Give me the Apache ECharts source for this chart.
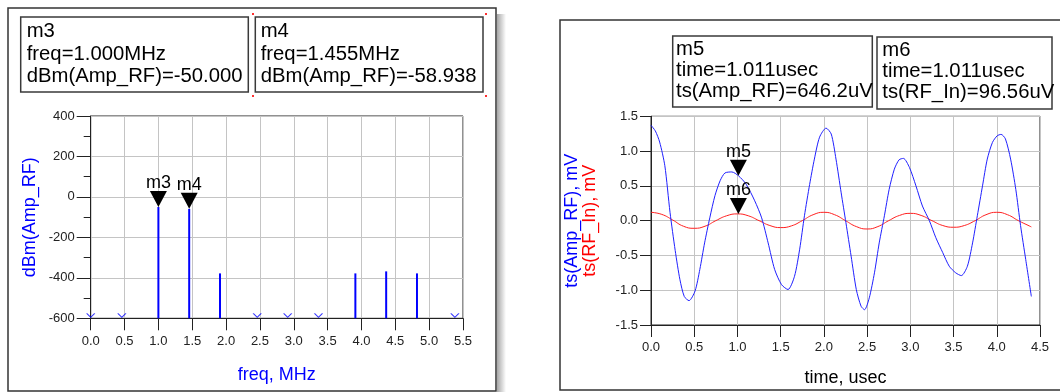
<!DOCTYPE html>
<html>
<head>
<meta charset="utf-8">
<script src="https://cdn.jsdelivr.net/npm/echarts@6/dist/echarts.min.js"></script>
<style>html,body{margin:0;padding:0;background:#fff;}#c{width:1060px;height:392px;}</style>
</head>
<body>
<div id="c"></div>
<script>
// ---------- Left panel: spectrum ----------
const freqStems = [1.0, 1.455, 1.91, 3.91, 4.365, 4.82];
const dbmStems  = [-50.0, -58.938, -378, -378, -368, -378];
const freqFloor = [0.0, 0.46, 2.46, 2.91, 3.365, 5.38];
const dbmFloor  = [-600, -600, -600, -600, -600, -600];
const markerM3 = {name: 'm3', freq: 1.000, dbm: -50.000};
const markerM4 = {name: 'm4', freq: 1.455, dbm: -58.938};

// ---------- Right panel: time signals ----------
const timeAmp = [0.0,0.05,0.10,0.16,0.22,0.28,0.335,0.385,0.44,0.51,0.565,0.62,0.68,0.74,0.80,0.855,0.935,1.011,1.10,1.20,1.28,1.355,1.43,1.51,1.585,1.66,1.72,1.775,1.835,1.89,1.95,2.025,2.085,2.14,2.20,2.255,2.315,2.375,2.43,2.47,2.525,2.585,2.64,2.70,2.755,2.815,2.87,2.92,2.99,3.065,3.14,3.22,3.295,3.375,3.45,3.525,3.59,3.66,3.72,3.775,3.835,3.89,3.95,4.005,4.05,4.10,4.16,4.22,4.275,4.335,4.40];
const ampRF   = [1.37,1.29,1.13,0.79,0.12,-0.43,-0.85,-1.09,-1.15,-1.01,-0.70,-0.32,0.04,0.36,0.575,0.685,0.70,0.646,0.525,0.285,0.04,-0.32,-0.70,-0.92,-0.99,-0.80,-0.41,0.07,0.52,0.885,1.20,1.33,1.245,0.885,0.40,-0.03,-0.51,-0.99,-1.23,-1.28,-1.11,-0.75,-0.32,0.07,0.45,0.74,0.875,0.895,0.764,0.50,0.21,0.0,-0.245,-0.46,-0.655,-0.75,-0.79,-0.655,-0.32,0.07,0.50,0.885,1.125,1.22,1.24,1.175,0.885,0.45,-0.07,-0.56,-1.09];
const timeIn  = [0.0,0.125,0.25,0.375,0.5,0.625,0.75,0.875,1.0,1.125,1.25,1.375,1.5,1.625,1.75,1.875,2.0,2.125,2.25,2.375,2.5,2.625,2.75,2.875,3.0,3.125,3.25,3.375,3.5,3.625,3.75,3.875,4.0,4.125,4.25,4.375,4.4];
const rfIn    = [0.12,0.09,0.01,-0.08,-0.11,-0.08,0.0,0.07,0.097,0.07,0.0,-0.07,-0.10,-0.075,0.0,0.085,0.12,0.085,0.0,-0.085,-0.12,-0.085,0.0,0.075,0.105,0.075,0.0,-0.07,-0.095,-0.07,0.0,0.085,0.12,0.085,0.0,-0.075,-0.09];
const markerM5 = {name: 'm5', time: 1.011, value: 0.6462};
const markerM6 = {name: 'm6', time: 1.011, value: 0.09656};

const FONT = '"Liberation Sans", Arial, sans-serif';
const zip = (a, b) => a.map((x, i) => [x, b[i]]);
const fmt1 = v => v.toFixed(1);
const TRI = 'path://M0,0L10,0L5,10Z';

const chart = echarts.init(document.getElementById('c'), null, {renderer: 'canvas'});

function box(x, y, w, h, tx, ty, lines, lh) {
  return {
    type: 'group', children: [
      {type: 'rect', shape: {x: x, y: y, width: w, height: h},
       style: {fill: '#fff', stroke: '#3a3a3a', lineWidth: 1.5}},
      {type: 'text', style: {x: tx, y: ty, text: lines.join('\n'), fill: '#000',
        fontSize: 20.3, fontFamily: FONT, lineHeight: lh, verticalAlign: 'top', align: 'left'}}
    ]
  };
}

const graphics = [
  {type: 'rect', shape: {x: 497, y: 14, width: 9, height: 380},
   style: {fill: new echarts.graphic.LinearGradient(0, 0, 1, 0, [{offset: 0, color: 'rgba(0,0,0,0.35)'}, {offset: 1, color: 'rgba(0,0,0,0)'}])}, z: -1},
  {type: 'rect', shape: {x: 8, y: 8, width: 488, height: 383}, style: {fill: 'none', stroke: '#333', lineWidth: 1.5}, z: -1},
  {type: 'rect', shape: {x: 560, y: 20, width: 510, height: 370}, style: {fill: 'none', stroke: '#333', lineWidth: 1.5}, z: -1},
  box(20.7, 17, 227.6, 75, 26.7, 20.5, [markerM3.name, 'freq=' + markerM3.freq.toFixed(3) + 'MHz', 'dBm(Amp_RF)=' + markerM3.dbm.toFixed(3)], 22.5),
  box(255.3, 17, 227.7, 75, 260.7, 20.5, [markerM4.name, 'freq=' + markerM4.freq.toFixed(3) + 'MHz', 'dBm(Amp_RF)=' + markerM4.dbm.toFixed(3)], 22.5),
  box(672.7, 36, 199.6, 71, 676, 39.2, [markerM5.name, 'time=' + markerM5.time.toFixed(3) + 'usec', 'ts(Amp_RF)=' + (markerM5.value * 1000).toFixed(1) + 'uV'], 21),
  box(877, 37, 175, 72, 882.3, 40, [markerM6.name, 'time=' + markerM6.time.toFixed(3) + 'usec', 'ts(RF_In)=' + (markerM6.value * 1000).toFixed(2) + 'uV'], 21)
];
[[252, 13], [252, 95], [485, 13], [485, 95]].forEach(p => graphics.push({type: 'rect', shape: {x: p[0], y: p[1], width: 2, height: 2}, style: {fill: '#ff3030'}}));

const axisLineStyle = {color: '#222', width: 1};
const gridLine = {show: true, lineStyle: {color: '#c4c4c4', width: 1}};
const labelStyle = {color: '#222', fontSize: 13, fontFamily: FONT};

const option = {
  animation: false,
  backgroundColor: '#fff',
  graphic: graphics,
  grid: [
    {left: 90.7, right: 597, top: 116, bottom: 73.7, show: true, borderColor: '#222', borderWidth: 1, backgroundColor: '#fff'},
    {left: 651, right: 20, top: 116.3, bottom: 67, show: true, borderColor: '#222', borderWidth: 1, backgroundColor: '#fff'}
  ],
  xAxis: [
    {type: 'value', gridIndex: 0, min: 0, max: 5.5, interval: 0.5,
     axisLine: {show: true, onZero: false, lineStyle: axisLineStyle},
     axisTick: {show: true, length: 12, lineStyle: axisLineStyle},
     axisLabel: Object.assign({formatter: fmt1, margin: 17}, labelStyle),
     splitLine: gridLine,
     name: 'freq, MHz', nameLocation: 'middle', nameGap: 48,
     nameTextStyle: {color: '#0000ff', fontSize: 18, fontFamily: FONT}},
    {type: 'value', gridIndex: 1, min: 0, max: 4.5, interval: 0.5,
     axisLine: {show: true, onZero: false, lineStyle: axisLineStyle},
     axisTick: {show: true, length: 12, lineStyle: axisLineStyle},
     axisLabel: Object.assign({formatter: fmt1, margin: 16}, labelStyle),
     splitLine: gridLine,
     name: 'time, usec', nameLocation: 'middle', nameGap: 44,
     nameTextStyle: {color: '#000', fontSize: 18, fontFamily: FONT}}
  ],
  yAxis: [
    {type: 'value', gridIndex: 0, min: -600, max: 400, interval: 200,
     axisLine: {show: true, onZero: false, lineStyle: axisLineStyle},
     axisTick: {show: true, length: 14, lineStyle: axisLineStyle},
     minorTick: {show: true, splitNumber: 2, length: 7, lineStyle: axisLineStyle},
     axisLabel: Object.assign({margin: 16}, labelStyle),
     splitLine: gridLine,
     name: 'dBm(Amp_RF)', nameLocation: 'middle', nameGap: 52,
     nameTextStyle: {color: '#0000ff', fontSize: 18, fontFamily: FONT}},
    {type: 'value', gridIndex: 1, min: -1.5, max: 1.5, interval: 0.5,
     axisLine: {show: true, onZero: false, lineStyle: axisLineStyle},
     axisTick: {show: true, length: 11, lineStyle: axisLineStyle},
     axisLabel: Object.assign({formatter: fmt1, margin: 13}, labelStyle),
     splitLine: gridLine,
     name: '{b|ts(Amp_RF), mV}\n{r|ts(RF_In), mV}', nameLocation: 'middle', nameGap: 52,
     nameTextStyle: {fontSize: 18, fontFamily: FONT, lineHeight: 18,
       rich: {b: {color: '#0000ff', fontSize: 18, fontFamily: FONT, lineHeight: 18},
              r: {color: '#ff0000', fontSize: 18, fontFamily: FONT, lineHeight: 18}}}}
  ],
  series: [
    {type: 'custom', xAxisIndex: 0, yAxisIndex: 0, data: zip(freqStems, dbmStems), z: 3,
     renderItem: function (params, api) {
       const x = api.value(0);
       const p0 = api.coord([x, dbmFloor[0]]);
       const p1 = api.coord([x, api.value(1)]);
       return {type: 'line', shape: {x1: p0[0], y1: p0[1], x2: p1[0], y2: p1[1]},
               style: {stroke: '#0000ff', lineWidth: 2}};
     }},
    {type: 'scatter', xAxisIndex: 0, yAxisIndex: 0, data: zip(freqFloor, dbmFloor), z: 4,
     symbol: 'path://M0,0L5,5L10,0', symbolSize: [8, 4], symbolOffset: [0, -3],
     itemStyle: {color: 'rgba(0,0,0,0)', borderColor: '#0000ff', borderWidth: 1},
     markPoint: {
       symbol: TRI, symbolSize: [17, 16], symbolOffset: [0, -8],
       itemStyle: {color: '#000'},
       label: {show: true, position: 'top', distance: -1, formatter: '{b}', color: '#000', fontSize: 18, fontFamily: FONT},
       data: [{name: markerM3.name, coord: [markerM3.freq, markerM3.dbm]},
              {name: markerM4.name, coord: [markerM4.freq, markerM4.dbm]}]
     }},
    {type: 'line', xAxisIndex: 1, yAxisIndex: 1, data: zip(timeIn, rfIn), smooth: true,
     showSymbol: false, lineStyle: {color: '#ff2020', width: 1}, z: 3},
    {type: 'line', xAxisIndex: 1, yAxisIndex: 1, data: zip(timeAmp, ampRF), smooth: 0.25,
     showSymbol: false, lineStyle: {color: '#2020ff', width: 1}, z: 4,
     markPoint: {
       symbol: TRI, symbolSize: [17, 16], symbolOffset: [0, -8],
       itemStyle: {color: '#000'},
       label: {show: true, position: 'top', distance: -1, formatter: '{b}', color: '#000', fontSize: 18, fontFamily: FONT},
       data: [{name: markerM5.name, coord: [markerM5.time, markerM5.value]},
              {name: markerM6.name, coord: [markerM6.time, markerM6.value]}]
     }}
  ]
};
chart.setOption(option);
</script>
</body>
</html>
